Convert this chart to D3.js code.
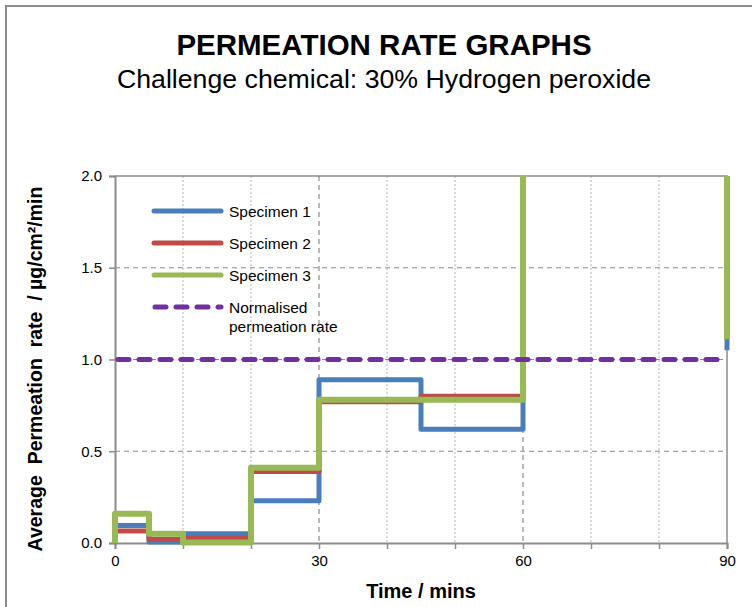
<!DOCTYPE html>
<html>
<head>
<meta charset="utf-8">
<script src="https://cdn.jsdelivr.net/npm/d3@7"></script>
<style>
  html, body { margin: 0; padding: 0; background: #fff; }
  svg { display: block; font-family: "Liberation Sans", Arial, sans-serif; }
</style>
</head>
<body>
<svg id="chart" width="752" height="607"></svg>
<script>
// ---- data ----
const title = "PERMEATION RATE GRAPHS";
const subtitle = "Challenge chemical: 30% Hydrogen peroxide";
const xLabel = "Time / mins";
const yLabel = "Average  Permeation  rate  / µg/cm²/min";

const times = [0, 5, 10, 20, 30, 45, 60, 90];           // interval boundaries (min)
const specimen1 = [0.095, 0.005, 0.05, 0.23, 0.89, 0.62, 3.5]; // per interval
const specimen2 = [0.065, 0.02, 0.027, 0.39, 0.77, 0.80, 3.5];
const specimen3 = [0.16, 0.05, 0.003, 0.41, 0.78, 0.78, 3.5];
const endValues = [1.05, 1.12, 1.11];                     // value reached at t = 90
const normalisedRate = 1.0;

const xTicks = [0, 30, 60, 90];
const xMinorTicks = [10, 20, 40, 50, 70, 80];
const yTicks = [0, 0.5, 1.0, 1.5, 2.0];

const seriesNames = ["Specimen 1", "Specimen 2", "Specimen 3"];
const seriesColors = ["#4A7EBB", "#BE4B48", "#98B954"];
const normColor = "#7030A0";

// ---- layout ----
const svg = d3.select("#chart");
const m = { left: 115, top: 176, right: 727, bottom: 543 };
const x = d3.scaleLinear().domain([0, 90]).range([m.left, m.right]);
const y = d3.scaleLinear().domain([0, 2]).range([m.bottom, m.top]);

// outer frame
svg.append("path")
  .attr("d", `M6,607 L6,6 L752,6`)
  .attr("fill", "none").attr("stroke", "#8c8c8c").attr("stroke-width", 2);

// titles
svg.append("text").attr("x", 384).attr("y", 55).attr("text-anchor", "middle")
  .attr("font-size", 29.5).attr("font-weight", "bold").text(title);
svg.append("text").attr("x", 384).attr("y", 88).attr("text-anchor", "middle")
  .attr("font-size", 26.7).text(subtitle);

// gridlines
const grid = svg.append("g");
grid.selectAll(".hg").data(yTicks.filter(d => d > 0 && d < 2)).join("line")
  .attr("x1", m.left).attr("x2", m.right)
  .attr("y1", d => y(d)).attr("y2", d => y(d))
  .attr("stroke", "#8c8c8c").attr("stroke-width", 1.2).attr("stroke-dasharray", "5,4");
grid.selectAll(".vmaj").data(xTicks.filter(d => d > 0 && d < 90)).join("line")
  .attr("x1", d => x(d)).attr("x2", d => x(d))
  .attr("y1", m.top).attr("y2", m.bottom)
  .attr("stroke", "#8c8c8c").attr("stroke-width", 1.2).attr("stroke-dasharray", "5,4");
grid.selectAll(".vmin").data(xMinorTicks).join("line")
  .attr("x1", d => x(d)).attr("x2", d => x(d))
  .attr("y1", m.top).attr("y2", m.bottom)
  .attr("stroke", "#b4b4b4").attr("stroke-width", 1).attr("stroke-dasharray", "2,2");

// plot border (top & right)
svg.append("path")
  .attr("d", `M${m.left},${m.top} L${m.right},${m.top} L${m.right},${m.bottom}`)
  .attr("fill", "none").attr("stroke", "#8c8c8c").attr("stroke-width", 1.5);

// axes
const xAxis = d3.axisBottom(x).tickValues(xTicks.concat(xMinorTicks).sort((a, b) => a - b))
  .tickSize(6).tickFormat(d => xTicks.includes(d) ? d : "");
const gx = svg.append("g").attr("transform", `translate(0,${m.bottom})`).call(xAxis);
gx.select(".domain").attr("stroke", "#8c8c8c").attr("stroke-width", 2);
gx.selectAll(".tick line").attr("stroke", "#8c8c8c").attr("stroke-width", 1.5);
gx.selectAll(".tick text").attr("font-size", 15).attr("font-family", "Liberation Sans, Arial, sans-serif")
  .attr("fill", "#000").attr("dy", "0.95em");

const yAxis = d3.axisLeft(y).tickValues(yTicks).tickSize(6).tickFormat(d3.format(".1f"));
const gy = svg.append("g").attr("transform", `translate(${m.left},0)`).call(yAxis);
gy.select(".domain").attr("stroke", "#8c8c8c").attr("stroke-width", 2);
gy.selectAll(".tick line").attr("stroke", "#8c8c8c").attr("stroke-width", 1.5);
gy.selectAll(".tick text").attr("font-size", 15).attr("font-family", "Liberation Sans, Arial, sans-serif")
  .attr("fill", "#000").attr("x", -13);

// axis titles
svg.append("text").attr("x", 421).attr("y", 598).attr("text-anchor", "middle")
  .attr("font-size", 20).attr("font-weight", "bold").text(xLabel);
svg.append("text").attr("transform", `translate(42,369) rotate(-90)`)
  .attr("text-anchor", "middle").attr("font-size", 19.5).attr("font-weight", "bold")
  .style("white-space", "pre").text(yLabel);

// clip
svg.append("clipPath").attr("id", "clip").append("rect")
  .attr("x", m.left - 10).attr("y", m.top).attr("width", m.right - m.left + 20).attr("height", m.bottom - m.top + 10);

// step series
function stepPoints(vals, endV) {
  const pts = [[times[0], 0]];
  vals.forEach((v, i) => { pts.push([times[i], v]); pts.push([times[i + 1], v]); });
  pts.push([times[times.length - 1], endV]);
  return pts;
}
const line = d3.line().x(d => x(d[0])).y(d => y(d[1]));
const seriesData = [specimen1, specimen2, specimen3];
const widths = [5, 5, 6];
const plot = svg.append("g").attr("clip-path", "url(#clip)");
seriesData.forEach((vals, i) => {
  plot.append("path").datum(stepPoints(vals, endValues[i]))
    .attr("d", line).attr("fill", "none")
    .attr("stroke", seriesColors[i]).attr("stroke-width", widths[i])
    .attr("stroke-linejoin", "round").attr("stroke-linecap", "butt");
});
// normalised rate
plot.append("line")
  .attr("x1", x(0) + 3).attr("x2", x(90) - 3)
  .attr("y1", y(normalisedRate)).attr("y2", y(normalisedRate))
  .attr("stroke", normColor).attr("stroke-width", 5)
  .attr("stroke-dasharray", "11,10").attr("stroke-linecap", "round");

// legend
const legend = svg.append("g");
const legY = [211, 243, 275, 307];
seriesNames.forEach((n, i) => {
  legend.append("line").attr("x1", 154).attr("x2", 221).attr("y1", legY[i]).attr("y2", legY[i])
    .attr("stroke", seriesColors[i]).attr("stroke-width", 5).attr("stroke-linecap", "round");
  legend.append("text").attr("x", 229).attr("y", legY[i] + 5.5).attr("font-size", 15.5).text(n);
});
legend.append("line").attr("x1", 155).attr("x2", 221).attr("y1", legY[3]).attr("y2", legY[3])
  .attr("stroke", normColor).attr("stroke-width", 5).attr("stroke-dasharray", "11,10").attr("stroke-linecap", "round");
legend.append("text").attr("x", 229).attr("y", legY[3] + 5.5).attr("font-size", 15.5).text("Normalised");
legend.append("text").attr("x", 229).attr("y", legY[3] + 24.5).attr("font-size", 15.5).text("permeation rate");
</script>
</body>
</html>
